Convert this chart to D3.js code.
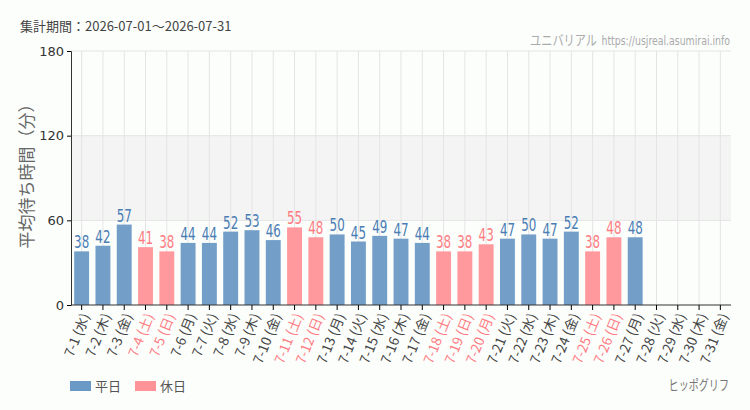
<!DOCTYPE html>
<html>
<head>
<meta charset="utf-8">
<script src="https://cdn.jsdelivr.net/npm/d3@7"></script>
<style>
  body { margin: 0; background: #fcfefc; }
  svg { display: block; }
</style>
</head>
<body>
<svg></svg>
<script>
var w = 750
var h = 410

// data
var days = ["7-1","7-2","7-3","7-4","7-5","7-6","7-7","7-8","7-9","7-10","7-11","7-12","7-13","7-14","7-15","7-16",
            "7-17","7-18","7-19","7-20","7-21","7-22","7-23","7-24","7-25","7-26","7-27","7-28","7-29","7-30","7-31"]
var weekdays = ["水","木","金","土","日","月","火","水","木","金","土","日","月","火","水","木",
                "金","土","日","月","火","水","木","金","土","日","月","火","水","木","金"]
var waits = [38,42,57,41,38,44,44,52,53,46,55,48,50,45,49,47,
             44,38,38,43,47,50,47,52,38,48,48,null,null,null,null]
var holidays = ["7-4","7-5","7-11","7-12","7-18","7-19","7-20","7-25","7-26"]
var yTicks = [0, 60, 120, 180]
var legendItems = ["平日", "休日"]

var blue = "#6b99c5", pink = "#ff9398"
var blueText = "#4a7db4", pinkText = "#ff7b82"
var sans = "'DejaVu Sans', sans-serif"
var jp = "'Noto Sans CJK JP', sans-serif"

var svg = d3.select("svg").attr("width", w).attr("height", h)

var x = d3.scaleBand().domain(days).range([71, 731]).paddingInner(0.3).paddingOuter(0.15)
var y = d3.scaleLinear().domain([0, 180]).range([305, 51])

function isHoliday(d) { return holidays.indexOf(d) >= 0 }

// narrow text: squeeze horizontally (no condensed font installed)
function narrowText(px, py, str, size, color, anchor, sx) {
    return svg.append("text")
        .attr("transform", "translate(" + px + "," + py + ") scale(" + sx + ",1)")
        .attr("text-anchor", anchor)
        .style("font-family", sans)
        .style("font-size", size + "px")
        .attr("fill", color)
        .text(str)
}

// shaded band 60-120
svg.append("rect")
    .attr("x", 71).attr("width", 660)
    .attr("y", y(120)).attr("height", y(60) - y(120))
    .attr("fill", "#f4f4f4")

// grid
svg.append("g").selectAll("line")
    .data(yTicks.slice(1))
    .join("line")
    .attr("x1", 71).attr("x2", 731)
    .attr("y1", function(d){ return y(d) }).attr("y2", function(d){ return y(d) })
    .attr("stroke", "#e4e4e4")

svg.append("g").selectAll("line")
    .data(days)
    .join("line")
    .attr("x1", function(d){ return x(d) + x.bandwidth()/2 })
    .attr("x2", function(d){ return x(d) + x.bandwidth()/2 })
    .attr("y1", y(180)).attr("y2", y(0))
    .attr("stroke", "#e4e4e4")

// bars
var data = days.map(function(d, i){ return {day: d, wd: weekdays[i], v: waits[i]} })
var withValue = data.filter(function(d){ return d.v != null })

svg.append("g").selectAll("rect")
    .data(withValue)
    .join("rect")
    .attr("x", function(d){ return x(d.day) })
    .attr("width", x.bandwidth())
    .attr("y", function(d){ return y(d.v) })
    .attr("height", function(d){ return y(0) - y(d.v) })
    .attr("fill", function(d){ return isHoliday(d.day) ? pink : blue })
    .attr("fill-opacity", 0.95)

svg.append("g").selectAll("text")
    .data(withValue)
    .join("text")
    .attr("transform", function(d){ return "translate(" + (x(d.day) + x.bandwidth()/2) + "," + (y(d.v) - 3) + ") scale(0.7,1)" })
    .attr("text-anchor", "middle")
    .style("font-family", sans)
    .style("font-size", "17px")
    .attr("fill", function(d){ return isHoliday(d.day) ? pinkText : blueText })
    .text(function(d){ return d.v })

// axes
var yAxis = svg.append("g")
    .attr("transform", "translate(71,0)")
    .call(d3.axisLeft(y).tickValues(yTicks).tickSize(4).tickPadding(3))
yAxis.selectAll("text").style("font-size", "13px").style("font-family", sans).attr("fill", "#333")
yAxis.select(".domain").attr("stroke", "#333")

var xAxis = svg.append("g")
    .attr("transform", "translate(0,305)")
    .call(d3.axisBottom(x).tickSize(5).tickFormat(""))
xAxis.select(".domain").attr("stroke", "#333").attr("d", "M71,0H731")

svg.append("g").selectAll("text")
    .data(data)
    .join("text")
    .attr("transform", function(d){ return "translate(" + (x(d.day) + x.bandwidth()/2 + 4) + ",314) rotate(-68)" })
    .attr("text-anchor", "end")
    .attr("dy", "0.35em")
    .style("font-family", jp)
    .style("font-size", "13.5px")
    .attr("fill", function(d){ return isHoliday(d.day) ? pinkText : "#444" })
    .text(function(d){ return d.day + " (" + d.wd + ")" })

// y title
svg.append("text")
    .attr("transform", "translate(33,172) rotate(-90)")
    .attr("text-anchor", "middle")
    .style("font-family", jp)
    .style("font-size", "17px")
    .attr("fill", "#666")
    .text("平均待ち時間（分）")

// header
svg.append("text")
    .attr("x", 20).attr("y", 31)
    .style("font-family", jp)
    .style("font-size", "13px")
    .attr("fill", "#444")
    .text("集計期間：2026-07-01～2026-07-31")

narrowText(730, 45, "https://usjreal.asumirai.info", 13, "#aaa", "end", 0.72)
narrowText(597, 45, "ユニバリアル", 14, "#aaa", "end", 0.8).style("font-family", jp)

// legend
var legend = svg.append("g").selectAll("g")
    .data(legendItems)
    .join("g")
    .attr("transform", function(d, i){ return "translate(" + (70 + i*65) + ",381)" })
legend.append("rect")
    .attr("width", 21).attr("height", 10)
    .attr("fill", function(d, i){ return i == 0 ? blue : pink })
legend.append("text")
    .attr("x", 25).attr("y", 5).attr("dy", "0.35em")
    .style("font-family", jp)
    .style("font-size", "13px")
    .attr("fill", "#555")
    .text(function(d){ return d })

narrowText(729, 390, "ヒッポグリフ", 14, "#777", "end", 0.72).style("font-family", jp)
</script>
</body>
</html>
